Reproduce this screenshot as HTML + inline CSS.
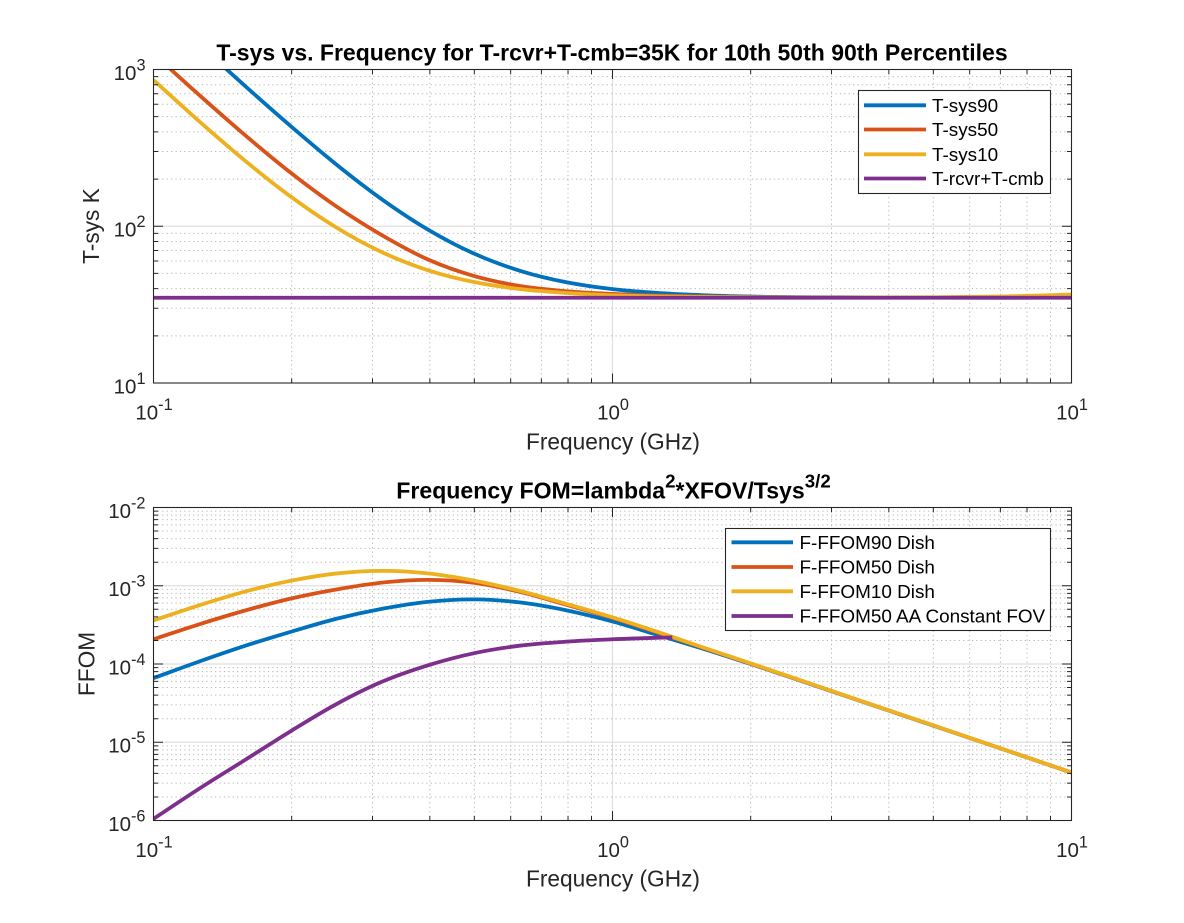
<!DOCTYPE html>
<html lang="en">
<head>
<meta charset="utf-8">
<title>T-sys and FFOM vs. Frequency</title>
<style>
html,body{margin:0;padding:0;background:#fff;width:1184px;height:923px;overflow:hidden}
svg{display:block;font-family:"Liberation Sans",Arial,sans-serif}
</style>
</head>
<body>
<svg id="fig" width="1184" height="923" viewBox="0 0 1184 923" xmlns="http://www.w3.org/2000/svg"></svg>
<script>
// ---- Data ----
const xTickExponents = [-1, 0, 1];
const xMinorFactors = [2, 3, 4, 5, 6, 7, 8, 9];
const topYExponents = [1, 2, 3];
const bottomYExponents = [-6, -5, -4, -3, -2];

const topFreq = [0.1, 0.126, 0.158, 0.2, 0.251, 0.316, 0.398, 0.501, 0.631, 0.794, 1, 1.26, 1.58, 2, 3.16, 5, 7, 10];
const tsys90 = [2689, 1441, 789, 430, 246, 147, 94.5, 66.6, 51.8, 43.9, 39.7, 37.5, 36.3, 35.6, 35.2, 35.05, 35, 35.1];
const tsys50 = [1261, 684, 383, 217, 133, 87, 61, 48, 41.5, 38.5, 37, 36.1, 35.6, 35.3, 35.1, 35.1, 35.3, 35.9];
const tsys10 = [857, 465, 263, 153, 97.7, 67.9, 52.2, 44, 39.7, 37.5, 36.3, 35.7, 35.4, 35.2, 35.1, 35.2, 35.6, 36.7];
const trcvr = [35, 35, 35, 35, 35, 35, 35, 35, 35, 35, 35, 35, 35, 35, 35, 35, 35, 35];

const bottomFreq = [0.1, 0.126, 0.158, 0.2, 0.251, 0.316, 0.398, 0.501, 0.631, 0.794, 1, 1.26, 1.58, 2, 3.16, 5, 7, 10];
const ffom90 = [6.6e-5, 1.08e-4, 1.7e-4, 2.6e-4, 3.8e-4, 5.1e-4, 6.25e-4, 6.7e-4, 6.1e-4, 4.85e-4, 3.5e-4, 2.33e-4, 1.56e-4, 1.0e-4, 4.05e-5, 1.63e-5, 8.35e-6, 4.1e-6];
const ffom50 = [2.07e-4, 3.23e-4, 4.81e-4, 6.9e-4, 9.0e-4, 1.1e-3, 1.19e-3, 1.09e-3, 8.3e-4, 5.7e-4, 3.88e-4, 2.5e-4, 1.6e-4, 1.01e-4, 4.07e-5, 1.64e-5, 8.37e-6, 4.1e-6];
const ffom10 = [3.6e-4, 5.65e-4, 8.4e-4, 1.165e-3, 1.437e-3, 1.55e-3, 1.435e-3, 1.159e-3, 8.53e-4, 5.86e-4, 3.95e-4, 2.55e-4, 1.62e-4, 1.02e-4, 4.08e-5, 1.64e-5, 8.37e-6, 4.1e-6];
const aaFreq = [0.1, 0.126, 0.158, 0.2, 0.251, 0.316, 0.398, 0.501, 0.631, 0.794, 1, 1.35];
const ffomAA = [1.05e-6, 2.57e-6, 5.9e-6, 1.41e-5, 3.1e-5, 6.0e-5, 9.7e-5, 1.38e-4, 1.72e-4, 1.93e-4, 2.07e-4, 2.19e-4];

const topLegend = ["T-sys90", "T-sys50", "T-sys10", "T-rcvr+T-cmb"];
const bottomLegend = ["F-FFOM90 Dish", "F-FFOM50 Dish", "F-FFOM10 Dish", "F-FFOM50 AA Constant FOV"];
const seriesColors = ["#0072BD", "#D95319", "#EDB120", "#7E2F8E"];

// ---- Drawing helpers ----
const NS = "http://www.w3.org/2000/svg";
const fig = document.getElementById("fig");
function mk(parent, tag, attrs, text) {
  const el = document.createElementNS(NS, tag);
  for (const k in attrs) el.setAttribute(k, attrs[k]);
  if (text !== undefined) el.textContent = text;
  parent.appendChild(el);
  return el;
}
const left = 153.5, right = 1071.5;
function xScale(f) { return left + (Math.log10(f) + 1) / 2 * (right - left); }
function logScale(minExp, maxExp, yBottom, yTop) {
  return v => yBottom - (Math.log10(v) - minExp) / (maxExp - minExp) * (yBottom - yTop);
}
// Cubic Hermite through the data points, with non-uniform finite-difference slopes.
function smoothPath(xs, ys, yFn) {
  const p = xs.map((x, i) => [xScale(x), yFn(ys[i])]);
  const n = p.length;
  const m = p.map((pt, i) => {
    if (i === 0) return (p[1][1] - p[0][1]) / (p[1][0] - p[0][0]);
    if (i === n - 1) return (p[n - 1][1] - p[n - 2][1]) / (p[n - 1][0] - p[n - 2][0]);
    const h0 = p[i][0] - p[i - 1][0], h1 = p[i + 1][0] - p[i][0];
    const s0 = (p[i][1] - p[i - 1][1]) / h0, s1 = (p[i + 1][1] - p[i][1]) / h1;
    return (s0 * h1 + s1 * h0) / (h0 + h1);
  });
  let d = "M" + p[0][0].toFixed(2) + " " + p[0][1].toFixed(2);
  for (let i = 0; i < n - 1; i++) {
    const h = (p[i + 1][0] - p[i][0]) / 3;
    d += "C" + (p[i][0] + h).toFixed(2) + " " + (p[i][1] + m[i] * h).toFixed(2) + " " +
      (p[i + 1][0] - h).toFixed(2) + " " + (p[i + 1][1] - m[i + 1] * h).toFixed(2) + " " +
      p[i + 1][0].toFixed(2) + " " + p[i + 1][1].toFixed(2);
  }
  return d;
}
function powerLabel(parent, x, y, exp, anchor) {
  const t = mk(parent, "text", {x: x, y: y, "font-size": 20.5, fill: "#262626", "text-anchor": anchor});
  
  
  mk(t, "tspan", {}, "10");
  mk(t, "tspan", {dy: -9.5, "font-size": 16.3}, String(exp));
  return t;
}
function drawAxes(id, yTop, yBottom, yExps, yFn, series, legendLabels, legendBox, textX, lineX, rowYs) {
  const g = mk(fig, "g", {});
  
  

  const grid = mk(g, "g", {});
  
  
  const ticks = [];
  const minorStyle = {stroke: "#b4b4b4", "stroke-width": 1, "stroke-dasharray": "1.2 3.2", fill: "none"};
  const majorStyle = {stroke: "#dfdfdf", "stroke-width": 1.2, fill: "none"};

  xTickExponents.forEach((e, i) => {
    const base = Math.pow(10, e);
    const px = xScale(base);
    if (i > 0 && i < xTickExponents.length - 1) mk(grid, "line", Object.assign({x1: px, x2: px, y1: yTop, y2: yBottom}, majorStyle));
    ticks.push("M" + px + " " + yBottom + "v-9.5M" + px + " " + yTop + "v9.5");
    if (i < xTickExponents.length - 1) xMinorFactors.forEach(m => {
      const mx = xScale(base * m);
      mk(grid, "line", Object.assign({x1: mx, x2: mx, y1: yTop, y2: yBottom}, minorStyle));
      ticks.push("M" + mx + " " + yBottom + "v-4.5M" + mx + " " + yTop + "v4.5");
    });
  });
  yExps.forEach((e, i) => {
    const base = Math.pow(10, e);
    const py = yFn(base);
    if (i > 0 && i < yExps.length - 1) mk(grid, "line", Object.assign({x1: left, x2: right, y1: py, y2: py}, majorStyle));
    ticks.push("M" + left + " " + py + "h9.5M" + right + " " + py + "h-9.5");
    if (i < yExps.length - 1) xMinorFactors.forEach(m => {
      const my = yFn(base * m);
      mk(grid, "line", Object.assign({x1: left, x2: right, y1: my, y2: my}, minorStyle));
      ticks.push("M" + left + " " + my + "h4.5M" + right + " " + my + "h-4.5");
    });
  });

  const clipId = id + "-clip";
  const defs = mk(g, "defs", {});
  const cp = mk(defs, "clipPath", {id: clipId});
  mk(cp, "rect", {x: left, y: yTop, width: right - left, height: yBottom - yTop});

  const plot = mk(g, "g", {"clip-path": "url(#" + clipId + ")"});
  
  
  series.forEach((s, i) => {
    const path = mk(plot, "path", {d: smoothPath(s.x, s.y, yFn), fill: "none", stroke: seriesColors[i], "stroke-width": 3.8, "stroke-linejoin": "round"});
    
    
  });

  const tickPath = mk(g, "path", {d: ticks.join(""), stroke: "#262626", "stroke-width": 1, fill: "none"});
  
  
  const box = mk(g, "rect", {x: left, y: yTop, width: right - left, height: yBottom - yTop, fill: "none", stroke: "#262626", "stroke-width": 1.1});
  
  

  xTickExponents.forEach(e => {
    powerLabel(g, xScale(Math.pow(10, e)) + 0.5, yBottom + 36.5, e, "middle");
  });
  yExps.forEach(e => {
    powerLabel(g, 145.5, yFn(Math.pow(10, e)) + 10.3, e, "end");
  });

  const leg = mk(g, "g", {});
  
  
  mk(leg, "rect", {x: legendBox[0], y: legendBox[1], width: legendBox[2], height: legendBox[3], fill: "#fff", stroke: "#262626", "stroke-width": 1.1});
  legendLabels.forEach((lab, i) => {
    const entry = mk(leg, "g", {});
    
    
    mk(entry, "line", {x1: lineX[0], x2: lineX[1], y1: rowYs[i], y2: rowYs[i], stroke: seriesColors[i], "stroke-width": 3.8});
    mk(entry, "text", {x: textX, y: rowYs[i] + 6.5, "font-size": 18.9, fill: "#000"}, lab);
  });
}

// ---- Top axes ----
const yTopScale = logScale(1, 3, 383, 69.5);
drawAxes("tsys", 69.5, 383, topYExponents, yTopScale, [
  {name: "tsys90-line", x: topFreq, y: tsys90},
  {name: "tsys50-line", x: topFreq, y: tsys50},
  {name: "tsys10-line", x: topFreq, y: tsys10},
  {name: "trcvr-tcmb-line", x: topFreq, y: trcvr}
], topLegend, [858.5, 90.5, 192, 103], 932, [864, 926], [105.3, 129.5, 154.3, 178.5]);

// ---- Bottom axes ----
const yBottomScale = logScale(-6, -2, 820.5, 507.5);
drawAxes("ffom", 507.5, 820.5, bottomYExponents, yBottomScale, [
  {name: "ffom90-line", x: bottomFreq, y: ffom90},
  {name: "ffom50-line", x: bottomFreq, y: ffom50},
  {name: "ffom10-line", x: bottomFreq, y: ffom10},
  {name: "ffom50-aa-line", x: aaFreq, y: ffomAA}
], bottomLegend, [725.5, 528.5, 325, 102], 799.5, [731.5, 793], [542.3, 567, 591.3, 616]);

// ---- Titles and axis labels ----
const t1 = mk(fig, "text", {x: 612, y: 60.5, "font-size": 23, "font-weight": "bold", fill: "#000", "text-anchor": "middle"}, "T-sys vs. Frequency for T-rcvr+T-cmb=35K for 10th 50th 90th Percentiles");



const t2 = mk(fig, "text", {x: 613.5, y: 498.3, "font-size": 23.1, "font-weight": "bold", fill: "#000", "text-anchor": "middle"});


mk(t2, "tspan", {}, "Frequency FOM=lambda");
mk(t2, "tspan", {dy: -11, "font-size": 18.7}, "2");
mk(t2, "tspan", {dy: 11}, "*XFOV/Tsys");
mk(t2, "tspan", {dy: -11, "font-size": 18.7}, "3/2");

const xl1 = mk(fig, "text", {x: 613, y: 449.3, "font-size": 22.7, fill: "#262626", "text-anchor": "middle"}, "Frequency (GHz)");


const xl2 = mk(fig, "text", {x: 613, y: 886.5, "font-size": 22.7, fill: "#262626", "text-anchor": "middle"}, "Frequency (GHz)");


const yl1 = mk(fig, "text", {x: 0, y: 0, "font-size": 22.7, fill: "#262626", "text-anchor": "middle", transform: "translate(99 226) rotate(-90)"}, "T-sys K");


const yl2 = mk(fig, "text", {x: 0, y: 0, "font-size": 22.7, fill: "#262626", "text-anchor": "middle", transform: "translate(94.5 664) rotate(-90)"}, "FFOM");


</script>
</body>
</html>
